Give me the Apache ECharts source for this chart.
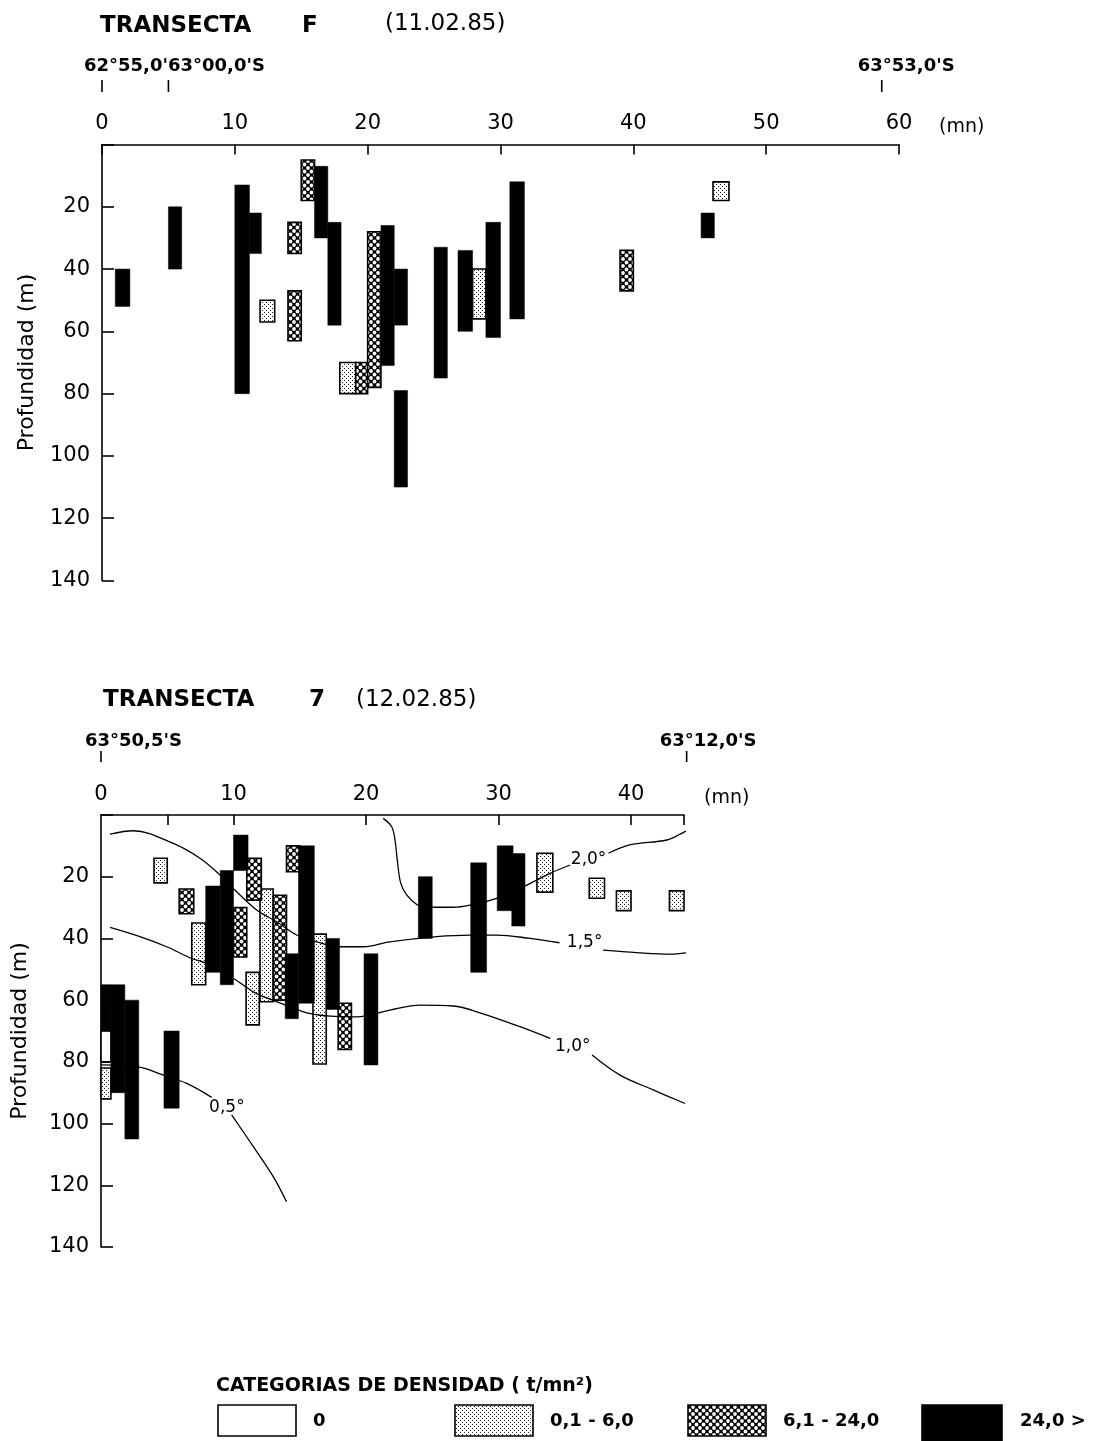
<!DOCTYPE html>
<html>
<head>
<meta charset="utf-8">
<script src="https://cdn.jsdelivr.net/npm/echarts@6/dist/echarts.min.js"></script>
<style>
  html, body { margin: 0; padding: 0; background: #fff; }
  #c { width: 1100px; height: 1441px; }
</style>
</head>
<body>
<div id="c"></div>
<script>
// Each layer: [from mn, to mn, top depth m, bottom depth m]

// TRANSECTA F (11.02.85)
const fNegro = [
  [1.0, 2.1, 40, 52], [5.0, 6.0, 20, 40], [10.0, 11.1, 13, 80], [11.1, 12.0, 22, 35],
  [16.0, 17.0, 7, 30], [17.0, 18.0, 25, 58], [21.0, 22.0, 26, 71], [22.0, 23.0, 40, 58],
  [22.0, 23.0, 79, 110], [25.0, 26.0, 33, 75], [26.8, 27.9, 34, 60], [28.9, 30.0, 25, 62],
  [30.7, 31.8, 12, 56], [45.1, 46.1, 22, 30]
];
const fMedio = [
  [14.0, 15.0, 25, 35], [14.0, 15.0, 47, 63], [15.0, 16.0, 5, 18], [19.1, 20.0, 70, 80],
  [20.0, 21.0, 28, 78], [39.0, 40.0, 34, 47]
];
const fClaro = [
  [11.9, 13.0, 50, 57], [17.9, 19.1, 70, 80], [27.9, 28.9, 40, 56], [46.0, 47.2, 12, 18]
];

// TRANSECTA 7 (12.02.85)
const t7Negro = [
  [0.0, 0.75, 55, 70], [0.75, 1.8, 55, 90], [1.8, 2.85, 60, 105], [4.75, 5.9, 70, 95],
  [7.9, 9.0, 23, 51], [9.0, 10.0, 18, 55], [10.0, 11.1, 6.5, 18], [13.9, 14.9, 45, 66],
  [14.9, 16.1, 10, 61], [17.0, 18.0, 40, 63], [19.85, 20.9, 45, 81], [23.95, 25.0, 20, 40],
  [27.9, 29.1, 15.5, 51], [29.9, 31.1, 10, 31], [31.0, 32.0, 12.5, 36]
];
const t7Medio = [
  [5.9, 7.0, 24, 32], [10.0, 11.0, 30, 46], [11.0, 12.1, 14, 27.6], [13.0, 14.0, 26, 60],
  [14.0, 15.0, 10, 18.4], [17.9, 18.9, 61, 76]
];
const t7Claro = [
  [0.0, 0.75, 82, 92], [4.0, 5.0, 14, 22], [6.85, 7.9, 35, 55], [10.95, 11.95, 51, 68],
  [12.0, 13.0, 24, 60.5], [16.0, 17.0, 38.6, 80.7], [32.9, 34.1, 12.4, 25],
  [36.85, 38.0, 20.5, 27], [38.9, 40.0, 24.6, 31], [42.9, 44.0, 24.6, 31]
];
const t7Cero = [
  [0.0, 0.75, 70, 80]
];

// Isotherms of transect 7: [mn, depth m]; each one is split where its label sits
const iso20a = [[21.3, 1.1], [21.94, 3.8], [22.19, 8.1], [22.36, 14.6], [22.62, 22.1], [23.07, 25.9],
  [23.83, 29.0], [24.58, 29.9], [26.59, 29.9], [27.85, 29.2], [29.86, 27.0], [32.13, 22.7],
  [33.89, 18.9], [35.4, 16.2]];
const iso20b = [[38.3, 12.4], [39.9, 9.7], [42.7, 8.1], [43.9, 5.8], [44.15, 5.2]];
const iso15a = [[0.68, 6.2], [2.44, 5.1], [5.46, 9.2], [7.47, 14.0], [8.85, 18.9], [9.98, 23.8],
  [11.75, 30.8], [13.26, 34.6], [14.77, 38.9], [16.28, 41.1], [18.04, 42.7], [19.8, 42.7],
  [21.8, 41.1], [25.34, 39.4], [27.85, 38.9], [29.86, 38.9], [32.38, 40.0], [34.6, 41.4]];
const iso15b = [[37.9, 43.8], [40.43, 44.6], [42.94, 45.1], [44.8, 44.3]];
const iso10a = [[0.68, 36.4], [2.94, 39.4], [4.96, 42.7], [6.85, 46.5], [7.98, 48.1], [9.98, 52.9],
  [11.49, 57.3], [12.75, 59.7], [14.26, 62.1], [15.52, 64.1], [17.28, 65.2], [19.3, 65.4],
  [21.81, 63.2], [24.08, 61.6], [26.59, 61.9], [28.6, 64.1], [31.62, 68.6], [33.9, 72.4]];
const iso10b = [[37.06, 77.8], [39.17, 84.3], [41.68, 89.1], [44.08, 93.5]];
const iso05a = [[0.0, 81.0], [2.82, 81.6], [4.7, 84.3], [6.47, 87.0], [8.35, 91.5]];
const iso05b = [[9.86, 97.2], [11.5, 107.5], [13.0, 117.2], [14.0, 125.3]];
const isoEtiquetas = [[36.8, 14.6, '2,0°'], [36.5, 41.5, '1,5°'], [35.6, 75.2, '1,0°'], [9.5, 94.8, '0,5°']];

// Axis ticks and labels
const profTicks = [20, 40, 60, 80, 100, 120, 140];
const fDistLabels = [0, 10, 20, 30, 40, 50, 60];
const t7DistTicks = [5, 10, 20, 30, 40, 44];
const t7DistLabels = [0, 10, 20, 30, 40];

// Latitude marks: [mn, label]
const fLatitudes = [[0, ''], [5, ''], [58.7, "63°53,0'S"]];
const t7Latitudes = [[0, "63°50,5'S"], [44.2, "63°12,0'S"]];

// Density categories
const categorias = ['0', '0,1 - 6,0', '6,1 - 24,0', '24,0 >'];

const FONT = 'DejaVu Sans';

function makePattern(kind) {
  const c = document.createElement('canvas');
  const g = c.getContext('2d');
  if (kind === 'claro') {
    c.width = 4; c.height = 4;
    g.fillStyle = '#fff'; g.fillRect(0, 0, 4, 4);
    g.fillStyle = '#222';
    g.fillRect(0, 0, 1, 1); g.fillRect(2, 2, 1, 1);
  } else {
    c.width = 7; c.height = 7;
    g.fillStyle = '#000'; g.fillRect(0, 0, 7, 7);
    g.fillStyle = '#fff';
    [[3.5, 3.5], [0, 0], [7, 0], [0, 7], [7, 7]].forEach(function (p) {
      g.beginPath(); g.arc(p[0], p[1], 1.9, 0, Math.PI * 2); g.fill();
    });
  }
  return { image: c, repeat: 'repeat' };
}
const fills = {
  cero: '#fff',
  claro: makePattern('claro'),
  medio: makePattern('medio'),
  negro: '#000'
};

function layerSeries(name, data, grid, fill, outlined) {
  return {
    type: 'custom',
    name: name,
    xAxisIndex: grid, yAxisIndex: grid,
    data: data,
    encode: { x: [0, 1], y: [2, 3] },
    z: outlined ? 3 : 4,
    silent: true,
    renderItem: function (params, api) {
      const p0 = api.coord([api.value(0), api.value(2)]);
      const p1 = api.coord([api.value(1), api.value(3)]);
      return {
        type: 'rect',
        shape: { x: p0[0], y: p0[1], width: p1[0] - p0[0], height: p1[1] - p0[1] },
        style: { fill: fill, stroke: '#000', lineWidth: outlined ? 1.6 : 0.5 }
      };
    }
  };
}

function isoLine(data) {
  return {
    type: 'line', xAxisIndex: 1, yAxisIndex: 1, data: data,
    smooth: 0.35, showSymbol: false, symbol: 'none', clip: false, silent: true, z: 5,
    lineStyle: { color: '#000', width: 1.3 }
  };
}

const lineSt = { color: '#000', width: 1.6 };

function depthAxis(grid, gap) {
  return {
    type: 'value', gridIndex: grid, inverse: true, min: 0, max: 140, interval: 20,
    axisLine: { show: true, lineStyle: lineSt },
    axisTick: { show: true, inside: true, length: 12, lineStyle: lineSt },
    axisLabel: { customValues: profTicks, color: '#000', fontSize: 21, fontFamily: FONT, margin: 12 },
    splitLine: { show: false },
    name: 'Profundidad (m)', nameLocation: 'middle', nameRotate: 90, nameGap: gap,
    nameTextStyle: { color: '#000', fontSize: 22, fontFamily: FONT }
  };
}

const chart = echarts.init(document.getElementById('c'));

chart.setOption({
  backgroundColor: '#fff',
  animation: false,
  grid: [
    { left: 102, top: 144.5, width: 797, height: 436, outerBoundsMode: 'none' },
    { left: 101, top: 815, width: 583, height: 432, outerBoundsMode: 'none' }
  ],
  xAxis: [
    {
      type: 'value', gridIndex: 0, position: 'top', min: 0, max: 60, interval: 10,
      axisLine: { show: true, lineStyle: lineSt },
      axisTick: { show: true, inside: true, length: 10, lineStyle: lineSt },
      axisLabel: { customValues: fDistLabels, color: '#000', fontSize: 21, fontFamily: FONT, margin: 10 },
      splitLine: { show: false }
    },
    {
      type: 'value', gridIndex: 1, position: 'top', min: 0, max: 44,
      axisLine: { show: true, lineStyle: lineSt },
      axisTick: { show: true, inside: true, length: 10, lineStyle: lineSt, customValues: t7DistTicks },
      axisLabel: { customValues: t7DistLabels, color: '#000', fontSize: 21, fontFamily: FONT, margin: 10 },
      splitLine: { show: false }
    }
  ],
  yAxis: [depthAxis(0, 64), depthAxis(1, 70)],
  series: [
    layerSeries(categorias[1], fClaro, 0, fills.claro, true),
    layerSeries(categorias[2], fMedio, 0, fills.medio, true),
    layerSeries(categorias[3], fNegro, 0, fills.negro, false),
    layerSeries(categorias[0], t7Cero, 1, fills.cero, true),
    layerSeries(categorias[1], t7Claro, 1, fills.claro, true),
    layerSeries(categorias[2], t7Medio, 1, fills.medio, true),
    layerSeries(categorias[3], t7Negro, 1, fills.negro, false),
    isoLine(iso20a), isoLine(iso20b), isoLine(iso15a), isoLine(iso15b),
    isoLine(iso10a), isoLine(iso10b), isoLine(iso05a), isoLine(iso05b),
    {
      type: 'scatter', xAxisIndex: 1, yAxisIndex: 1, data: isoEtiquetas,
      symbolSize: 1, itemStyle: { color: 'rgba(0,0,0,0)', opacity: 1 }, silent: true, z: 6,
      label: {
        show: true, position: 'inside', formatter: function (p) { return p.data[2]; },
        color: '#000', opacity: 1, textBorderWidth: 0, fontSize: 17, fontFamily: FONT
      }
    }
  ]
});

// Titles, latitude marks, unit labels and the density legend
function txt(x, y, s, size, bold, align) {
  return {
    type: 'text', x: x, y: y, silent: true,
    style: {
      text: s, fill: '#000', fontSize: size, fontFamily: FONT,
      fontWeight: bold ? 'bold' : 'normal', align: align || 'left', verticalAlign: 'middle'
    }
  };
}
function vtick(x, y0, y1) {
  return { type: 'line', silent: true, shape: { x1: x, y1: y0, x2: x, y2: y1 }, style: { stroke: '#000', lineWidth: 1.6 } };
}
function box(x, y, w, h, fill) {
  return { type: 'rect', silent: true, shape: { x: x, y: y, width: w, height: h }, style: { fill: fill, stroke: '#000', lineWidth: 1.6 } };
}

const g = [];
g.push(txt(100, 26, 'TRANSECTA', 23, true), txt(302, 26, 'F', 23, true), txt(385, 24, '(11.02.85)', 23, false));
g.push(txt(103, 700, 'TRANSECTA', 23, true), txt(309, 700, '7', 23, true), txt(356, 700, '(12.02.85)', 23, false));

g.push(txt(84, 66, "62°55,0'63°00,0'S", 18, true));
fLatitudes.forEach(function (m) {
  const x = chart.convertToPixel({ xAxisIndex: 0 }, m[0]);
  g.push(vtick(x, 80, 92));
  if (m[1]) g.push(txt(x - 24, 66, m[1], 18, true));
});
t7Latitudes.forEach(function (m, i) {
  const x = chart.convertToPixel({ xAxisIndex: 1 }, m[0]);
  g.push(vtick(x, 751, 762));
  g.push(txt(x - (i === 0 ? 16 : 27), 741, m[1], 18, true));
});

g.push(txt(chart.convertToPixel({ xAxisIndex: 0 }, 60) + 40, 127, '(mn)', 19, false));
g.push(txt(chart.convertToPixel({ xAxisIndex: 1 }, 44) + 20, 798, '(mn)', 19, false));

g.push(txt(216, 1386, 'CATEGORIAS DE DENSIDAD ( t/mn²)', 19, true));
const legX = [218, 455, 688, 922];
const legFill = [fills.cero, fills.claro, fills.medio, fills.negro];
categorias.forEach(function (c, i) {
  g.push(box(legX[i], 1405, i === 3 ? 80 : 78, i === 3 ? 36 : 31, legFill[i]));
  g.push(txt(legX[i] + (i === 3 ? 98 : 95), 1421, c, 18, true));
});

chart.setOption({ graphic: g });
</script>
</body>
</html>
